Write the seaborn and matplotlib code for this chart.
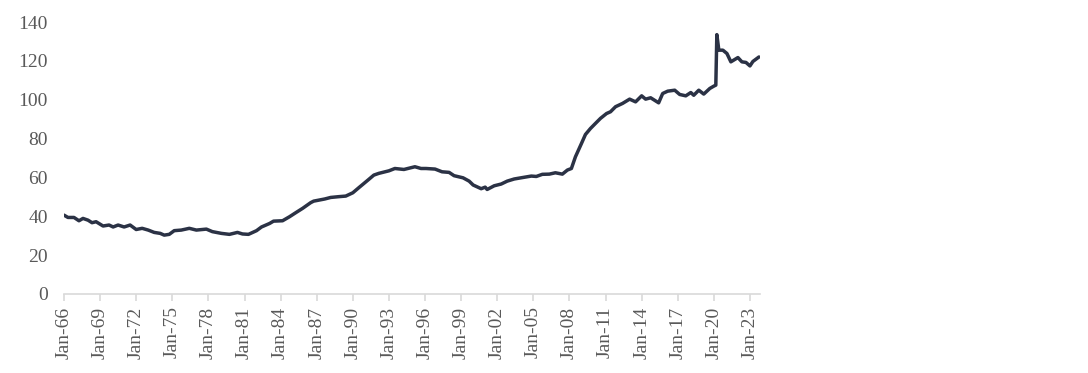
import matplotlib
matplotlib.use("Agg")
import matplotlib.pyplot as plt
import matplotlib.dates as mdates
import seaborn as sns
import pandas as pd

# 读图估计的数据（月份, 数值）
dates = [
    "1966-01", "1966-05", "1966-11", "1967-04", "1967-08", "1968-01", "1968-05", "1968-09",
    "1969-04", "1969-10", "1970-02", "1970-07", "1971-01", "1971-07", "1972-01", "1972-07",
    "1973-01", "1973-07", "1974-01", "1974-05", "1974-10", "1975-03", "1975-10", "1976-06",
    "1977-01", "1977-11", "1978-05", "1979-02", "1979-10", "1980-02", "1980-06", "1980-11",
    "1981-05", "1982-01", "1982-06", "1983-02", "1983-06", "1984-03", "1984-10", "1985-04",
    "1985-11", "1986-07", "1986-10", "1987-09", "1988-03", "1988-11", "1989-06", "1990-01",
    "1990-07", "1991-01", "1991-05", "1991-10", "1992-03", "1993-01", "1993-07", "1994-04",
    "1995-03", "1995-09", "1996-02", "1996-11", "1997-06", "1998-01", "1998-06", "1999-03",
    "1999-09", "2000-01", "2000-09", "2001-01", "2001-03", "2001-10", "2002-05", "2002-11",
    "2003-06", "2004-03", "2004-11", "2005-04", "2005-10", "2006-05", "2006-11", "2007-06",
    "2007-11", "2008-03", "2008-07", "2009-01", "2009-05", "2009-10", "2010-03", "2010-08",
    "2011-02", "2011-06", "2011-11", "2012-06", "2013-01", "2013-07", "2014-01", "2014-05",
    "2014-10", "2015-06", "2015-10", "2016-03", "2016-10", "2017-03", "2017-09", "2018-02",
    "2018-05", "2018-10", "2019-03", "2019-09", "2020-01", "2020-03", "2020-04", "2020-06",
    "2020-10", "2021-02", "2021-06", "2022-01", "2022-05", "2022-09", "2023-01", "2023-04",
    "2023-10",
]
values = [
    40.6, 39.4, 39.4, 37.7, 38.9, 38.0, 36.7, 37.2,
    35.0, 35.5, 34.5, 35.5, 34.5, 35.5, 33.2, 33.8,
    32.9, 31.7, 31.2, 30.3, 30.7, 32.6, 32.9, 33.8,
    32.9, 33.4, 32.1, 31.2, 30.7, 31.2, 31.7, 30.9,
    30.7, 32.6, 34.5, 36.3, 37.5, 37.7, 39.8, 41.8,
    44.1, 47.0, 47.8, 48.9, 49.7, 50.1, 50.4, 52.1,
    54.7, 57.3, 59.0, 61.2, 62.1, 63.4, 64.6, 64.1,
    65.5, 64.6, 64.6, 64.3, 62.9, 62.6, 60.9, 59.8,
    58.1, 56.1, 54.2, 55.0, 53.8, 55.7, 56.6, 58.1,
    59.2, 60.0, 60.7, 60.5, 61.6, 61.7, 62.4, 61.7,
    63.8, 64.6, 70.6, 77.5, 82.1, 85.2, 87.8, 90.4,
    92.9, 93.8, 96.4, 98.1, 100.3, 98.9, 102.0, 100.3,
    101.0, 98.4, 103.2, 104.4, 104.9, 102.7, 102.0, 103.7,
    102.3, 104.9, 102.9, 105.8, 107.0, 107.5, 133.5, 125.5,
    125.5, 123.8, 119.5, 121.7, 119.5, 119.2, 117.4, 119.7,
    122.0,
]
tick_years = list(range(1966, 2024, 3))
y_ticks = [0, 20, 40, 60, 80, 100, 120, 140]

df = pd.DataFrame({"date": pd.to_datetime(dates), "value": values})

sns.set_style("white")
plt.rcParams["font.family"] = ["Liberation Serif", "DejaVu Serif"]

fig = plt.figure(figsize=(10.88, 3.73), dpi=100)
ax = fig.add_axes([0.0588, 0.2118, 0.6397, 0.7292])

sns.lineplot(data=df, x="date", y="value", ax=ax, color="#2b3245", linewidth=2.5)

ax.set_xlim(pd.Timestamp("1966-01-01"), pd.Timestamp("2023-11-01"))
ax.set_ylim(0, 140)
ax.set_yticks(y_ticks)
ax.set_xticks([pd.Timestamp(f"{y}-01-01") for y in tick_years])
ax.xaxis.set_major_formatter(mdates.DateFormatter("%b-%y"))
ax.set_xlabel("")
ax.set_ylabel("")

for s in ["top", "right", "left"]:
    ax.spines[s].set_visible(False)
ax.spines["bottom"].set_color("#d9d9d9")
ax.spines["bottom"].set_linewidth(1.2)
ax.tick_params(axis="x", which="major", bottom=True, length=5, width=1.2, color="#d9d9d9",
               labelsize=14, labelcolor="#595959", labelrotation=90, pad=4)
ax.tick_params(axis="y", left=False, labelsize=14, labelcolor="#595959", pad=8)

fig.savefig("out.png", dpi=100)
plt.close(fig)
